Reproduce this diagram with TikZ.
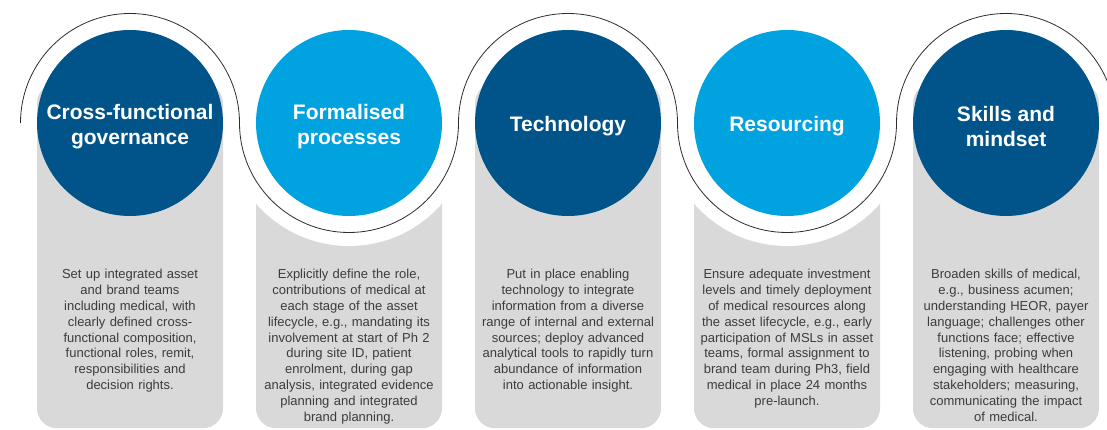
\documentclass[tikz,border=0pt]{standalone}
\usepackage{fontspec}
\setmainfont{Liberation Sans}
\usetikzlibrary{shapes, calc, positioning}
\definecolor{darkBlue}{RGB}{0,84,137}
\definecolor{lightBlue}{RGB}{0,162,223}
\definecolor{panelGray}{RGB}{217,217,217}
\definecolor{bodyGray}{RGB}{60,60,60}
\definecolor{lineGray}{RGB}{45,45,45}
\tikzstyle{darkPillar}  = [circle,
                           minimum size=186pt,
                           inner sep=0pt,
                           fill=darkBlue]
\tikzstyle{lightPillar} = [circle,
                           minimum size=186pt,
                           inner sep=0pt,
                           fill=lightBlue]
\tikzstyle{titleText}   = [rectangle,
                           text centered,
                           align=center,
                           text=white,
                           font=\bfseries\fontsize{21}{25}\selectfont]
\tikzstyle{panel}       = [rectangle,
                           rounded corners=20pt,
                           minimum width=186pt,
                           minimum height=345pt,
                           anchor=north,
                           fill=panelGray]
\tikzstyle{ring}        = [circle,
                           minimum size=246pt,
                           inner sep=0pt,
                           fill=white]
\tikzstyle{bodyText}    = [rectangle,
                           text width=184pt,
                           align=center,
                           anchor=north,
                           text=bodyGray,
                           font=\fontsize{13}{15.8}\selectfont]
\tikzstyle{snake}       = [line width=0.8pt, draw=lineGray]

\begin{document}
\begin{tikzpicture}[x=1pt, y=1pt]
        \clip (0,0) rectangle (1107,430);

        \coordinate (govC)  at (130,307);
        \coordinate (procC) at ([shift={(219pt,0)}] govC);
        \coordinate (techC) at ([shift={(438pt,0)}] govC);
        \coordinate (resC)  at ([shift={(657pt,0)}] govC);
        \coordinate (skillC) at ([shift={(876pt,0)}] govC);

        \node [panel] (govPanel)   at ([shift={(0,40pt)}] govC) {};
        \node [panel] (procPanel)  at ([shift={(0,40pt)}] procC) {};
        \node [panel] (techPanel)  at ([shift={(0,40pt)}] techC) {};
        \node [panel] (resPanel)   at ([shift={(0,40pt)}] resC) {};
        \node [panel] (skillPanel) at ([shift={(0,40pt)}] skillC) {};

        \node [ring] (procRing) at (procC) {};
        \node [ring] (resRing)  at (resC) {};

        \draw [snake] ([shift={(-109.5pt,0)}] govC)
            arc (180:0:109.5) arc (180:360:109.5)
            arc (180:0:109.5) arc (180:360:109.5)
            arc (180:0:109.5);

        \node [darkPillar]  (gov)   at (govC)   {};
        \node [lightPillar] (proc)  at (procC)  {};
        \node [darkPillar]  (tech)  at (techC)  {};
        \node [lightPillar] (res)   at (resC)   {};
        \node [darkPillar]  (skill) at (skillC) {};

        \node [titleText] (govTitle)   at ([shift={(0,-3.5pt)}] gov.center)   {Cross-functional\\governance};
        \node [titleText] (procTitle)  at ([shift={(0,-3.5pt)}] proc.center)  {Formalised\\processes};
        \node [titleText] (techTitle)  at ([shift={(0,-3.5pt)}] tech.center)  {Technology};
        \node [titleText] (resTitle)   at ([shift={(0,-3.5pt)}] res.center)   {Resourcing};
        \node [titleText] (skillTitle) at ([shift={(0,-3.5pt)}] skill.center) {Skills and\\mindset};

        \node [bodyText] (govText) at ([shift={(0,-143pt)}] gov.center) {
            Set up integrated asset\\ and brand teams\\ including medical, with\\
            clearly defined cross-\\ functional composition,\\ functional roles, remit,\\
            responsibilities and\\ decision rights.
            };
        \node [bodyText] (procText) at ([shift={(0,-143pt)}] proc.center) {
            Explicitly define the role,\\ contributions of medical at\\
            each stage of the asset\\ lifecycle, e.g., mandating its\\
            involvement at start of Ph 2\\ during site ID, patient\\
            enrolment, during gap\\ analysis, integrated evidence\\
            planning and integrated\\ brand planning.
            };
        \node [bodyText] (techText) at ([shift={(0,-143pt)}] tech.center) {
            Put in place enabling\\ technology to integrate\\
            information from a diverse\\ range of internal and external\\
            sources; deploy advanced\\ analytical tools to rapidly turn\\
            abundance of information\\ into actionable insight.
            };
        \node [bodyText] (resText) at ([shift={(0,-143pt)}] res.center) {
            Ensure adequate investment\\ levels and timely deployment\\
            of medical resources along\\ the asset lifecycle, e.g., early\\
            participation of MSLs in asset\\ teams, formal assignment to\\
            brand team during Ph3, field\\ medical in place 24 months\\
            pre-launch.
            };
        \node [bodyText] (skillText) at ([shift={(0,-143pt)}] skill.center) {
            Broaden skills of medical,\\ e.g., business acumen;\\
            understanding HEOR, payer\\ language; challenges other\\
            functions face; effective\\ listening, probing when\\
            engaging with healthcare\\ stakeholders; measuring,\\
            communicating the impact\\ of medical.
            };

    \end{tikzpicture}
\end{document}
